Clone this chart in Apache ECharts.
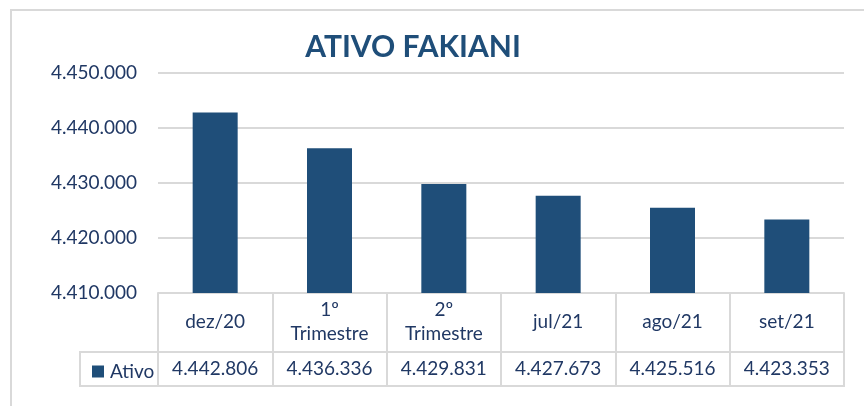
<!DOCTYPE html>
<html>
<head>
<meta charset="utf-8">
<script src="https://cdn.jsdelivr.net/npm/echarts@6/dist/echarts.min.js"></script>
<style>
  html, body { margin: 0; padding: 0; background: #fff; }
  #chart { width: 864px; height: 406px; }
</style>
</head>
<body>
<div id="chart"></div>
<script>
// dados do gráfico
const categorias = ['dez/20', '1º\nTrimestre', '2º\nTrimestre', 'jul/21', 'ago/21', 'set/21'];
const ativo = [4442806, 4436336, 4429831, 4427673, 4425516, 4423353];
const serieNome = 'Ativo';
const titulo = 'ATIVO FAKIANI';

const corBarra = '#1F4E79';
const corTexto = '#203864';
const corLinha = '#D9D9D9';
const fonte = 'Lato, "Noto Sans", sans-serif';

// 4442806 -> 4.442.806
function fmt(v) {
  return String(v).replace(/\B(?=(\d{3})+(?!\d))/g, '.');
}

const chart = echarts.init(document.getElementById('chart'));

const option = {
  backgroundColor: '#fff',
  animation: false,
  title: {
    text: titulo,
    left: 408,
    top: 27,
    textAlign: 'center',
    textStyle: { fontFamily: fonte, fontSize: 30, fontWeight: 'bold', color: corBarra }
  },
  legend: {
    data: [serieNome],
    left: 87,
    top: 357,
    itemWidth: 12,
    itemHeight: 12,
    icon: 'rect',
    selectedMode: false,
    textStyle: { fontFamily: fonte, fontSize: 19, color: corTexto, padding: [0, 0, 0, 1] }
  },
  grid: { left: 158, right: 20, top: 73, bottom: 113 },
  xAxis: [
    {
      type: 'category',
      data: categorias,
      position: 'bottom',
      axisLine: { show: true, lineStyle: { color: corLinha, width: 2 } },
      axisTick: { show: true, length: 59, lineStyle: { color: corLinha, width: 2 } },
      axisLabel: {
        margin: 29,
        verticalAlign: 'middle',
        lineHeight: 24,
        fontFamily: fonte, fontSize: 19, color: corTexto,
        interval: 0
      }
    },
    {
      type: 'category',
      data: categorias,
      position: 'bottom',
      offset: 59,
      axisLine: { show: true, lineStyle: { color: corLinha, width: 2 } },
      axisTick: { show: true, length: 34, lineStyle: { color: corLinha, width: 2 } },
      axisLabel: {
        margin: 17,
        verticalAlign: 'middle',
        fontFamily: fonte, fontSize: 19, color: corTexto,
        interval: 0,
        formatter: function (value, idx) { return fmt(ativo[idx]); }
      }
    }
  ],
  yAxis: {
    type: 'value',
    min: 4410000,
    max: 4450000,
    interval: 10000,
    axisLine: { show: false },
    axisTick: { show: false },
    splitLine: { lineStyle: { color: corLinha, width: 2 } },
    axisLabel: {
      margin: 21,
      fontFamily: fonte, fontSize: 19, color: corTexto,
      formatter: fmt
    }
  },
  series: [
    {
      name: serieNome,
      type: 'bar',
      data: ativo,
      barWidth: 45,
      itemStyle: { color: corBarra }
    }
  ],
  graphic: [
    // moldura externa
    { type: 'rect', shape: { x: 11, y: 10, width: 900, height: 500 }, style: { fill: null, stroke: corLinha, lineWidth: 2 }, silent: true },
    // célula da legenda e base da tabela
    { type: 'rect', shape: { x: 80, y: 352, width: 764, height: 34 }, style: { fill: null, stroke: corLinha, lineWidth: 2 }, silent: true, z: -1 }
  ]
};

chart.setOption(option);
</script>
</body>
</html>
